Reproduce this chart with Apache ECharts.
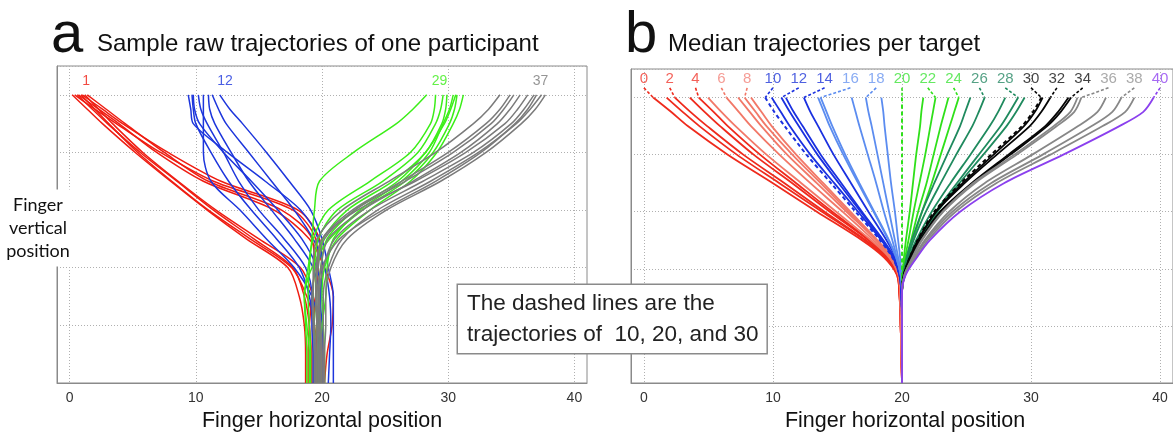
<!DOCTYPE html>
<html><head><meta charset="utf-8">
<script src="https://cdn.jsdelivr.net/npm/echarts@6/dist/echarts.min.js"></script>
<style>html,body{margin:0;padding:0;background:#fff}#c{width:1173px;height:435px}</style>
</head><body><div id="c"></div>
<script>
// ---------- data ----------
const TICKS_X = [0, 10, 20, 30, 40];

// Panel a: raw trajectories (x at each vertical level of Y_A)
const Y_A = [5, 4.75, 4.5, 4, 3.5, 3, 2.5, 2, 1.5, 1, 0.5, 0];
const RAW_TARGETS = [1, 12, 29, 37];
const RAW_1 = [
  [0.4, 2.0, 3.7, 7.2, 11.4, 17.7, 19.5, 19.7, 19.5, 19.3, 19.2, 19.2],
  [1.0, 2.6, 4.2, 7.8, 12.0, 18.1, 19.8, 20.0, 19.8, 19.6, 19.5, 19.4],
  [1.4, 2.9, 4.4, 7.5, 11.0, 16.8, 19.2, 19.4, 19.2, 19.0, 18.9, 18.9],
  [0.7, 2.3, 3.9, 6.9, 10.6, 16.2, 19.0, 20.2, 20.9, 20.8, 20.4, 20.2],
  [0.2, 1.4, 2.6, 5.2, 8.0, 10.9, 14.0, 17.3, 18.2, 18.6, 18.7, 18.7],
  [0.6, 1.8, 3.0, 5.6, 8.5, 11.4, 14.6, 17.7, 18.6, 19.0, 19.1, 19.1],
  [1.2, 2.3, 3.4, 5.8, 8.6, 11.6, 15.0, 18.3, 19.3, 19.8, 20.0, 20.0],
  [0.9, 2.0, 3.1, 5.4, 8.1, 11.0, 14.3, 17.6, 18.8, 19.4, 19.6, 19.6]
];
const RAW_12 = [
  [9.4, 9.6, 9.8, 12.5, 15.5, 18.3, 19.7, 20.0, 19.9, 19.8, 19.8, 19.8],
  [9.7, 9.8, 10.0, 11.2, 12.6, 14.4, 16.4, 18.2, 19.0, 19.3, 19.4, 19.4],
  [10.6, 10.6, 10.6, 10.6, 11.2, 13.5, 15.6, 17.8, 19.2, 19.8, 20.1, 20.1],
  [11.0, 11.1, 11.5, 12.8, 14.2, 16.0, 17.8, 19.3, 19.8, 20.0, 20.1, 20.1],
  [11.3, 11.8, 12.4, 14.2, 16.0, 17.8, 19.3, 20.2, 20.6, 20.7, 20.6, 20.5],
  [11.9, 12.7, 13.7, 15.6, 17.4, 19.1, 20.0, 20.5, 20.9, 20.9, 20.9, 20.9],
  [9.8, 9.9, 10.3, 12.2, 14.4, 16.5, 18.4, 19.6, 19.9, 19.8, 19.7, 19.7],
  [10.2, 10.4, 10.9, 12.2, 13.4, 15.0, 17.0, 18.7, 19.2, 19.2, 19.3, 19.3]
];
const RAW_29 = [
  [28.3, 27.2, 25.9, 22.5, 19.8, 19.4, 19.2, 19.0, 18.9, 19.0, 19.1, 19.1],
  [29.6, 29.4, 29.0, 27.6, 24.8, 21.2, 19.7, 19.4, 19.3, 19.4, 19.5, 19.5],
  [29.9, 29.8, 29.5, 28.2, 25.6, 22.0, 20.1, 19.6, 19.5, 19.6, 19.7, 19.7],
  [30.6, 30.2, 29.7, 28.2, 26.0, 22.6, 20.4, 19.9, 19.7, 19.8, 19.9, 19.9],
  [30.7, 30.5, 30.1, 28.8, 26.6, 23.2, 20.6, 19.2, 18.6, 18.8, 19.0, 19.0],
  [31.2, 30.9, 30.4, 29.1, 27.0, 23.8, 21.2, 20.2, 20.0, 20.1, 20.2, 20.2],
  [29.0, 28.9, 28.6, 27.0, 23.8, 20.5, 19.3, 18.9, 18.6, 18.7, 18.8, 18.8],
  [30.4, 30.1, 29.6, 28.5, 26.3, 23.0, 20.9, 20.4, 20.3, 20.0, 19.8, 19.8]
];
const RAW_37 = [
  [34.1, 33.2, 32.0, 29.0, 25.3, 21.6, 19.6, 19.3, 19.3, 19.4, 19.5, 19.5],
  [34.9, 34.1, 33.0, 30.0, 26.3, 22.4, 20.0, 19.6, 19.5, 19.6, 19.7, 19.7],
  [35.7, 34.9, 33.9, 31.0, 27.2, 23.2, 20.5, 19.9, 19.7, 19.8, 19.9, 19.9],
  [36.3, 35.5, 34.5, 31.4, 27.4, 22.8, 20.0, 19.5, 19.2, 19.3, 19.4, 19.4],
  [36.8, 36.0, 35.0, 32.0, 28.0, 23.8, 21.0, 20.1, 19.8, 19.9, 20.0, 20.0],
  [37.4, 36.5, 35.4, 32.4, 28.6, 24.4, 21.6, 20.5, 20.1, 20.1, 20.1, 20.1],
  [37.7, 36.9, 35.8, 33.0, 29.4, 25.1, 22.0, 20.7, 20.3, 20.3, 20.2, 20.2],
  [35.2, 34.4, 33.4, 30.4, 26.6, 22.6, 20.2, 19.7, 19.5, 19.6, 19.6, 19.6],
  [37.0, 36.3, 35.3, 32.6, 29.0, 24.8, 21.4, 20.0, 19.6, 19.7, 19.8, 19.8]
];
const RAW_LABEL_Y = 5.23;

// Panel b: median trajectories for targets 0..40 (x at each level of Y_B)
const Y_B = [5, 4.75, 4.5, 4, 3.5, 3, 2.5, 2.2, 1.9, 1.6, 1, 0];
const MED_00_04 = [
  [0.72, 2.1, 3.4, 6.5, 10.0, 13.4, 16.9, 18.6, 19.6, 19.8, 19.9, 20],
  [1.76, 3.0, 4.3, 7.2, 10.5, 13.8, 17.1, 18.7, 19.6, 19.8, 19.9, 20],
  [2.4, 3.6, 4.9, 7.7, 10.9, 14.0, 17.2, 18.8, 19.65, 19.8, 19.9, 20],
  [3.56, 4.7, 5.9, 8.5, 11.5, 14.4, 17.4, 18.9, 19.7, 19.8, 19.9, 20],
  [4.25, 5.4, 6.5, 9.0, 11.8, 14.6, 17.5, 18.9, 19.7, 19.8, 19.9, 20]
];
const MED_05_09 = [
  [4.97, 6.0, 7.1, 9.5, 12.2, 14.9, 17.6, 19.0, 19.7, 19.85, 19.9, 20],
  [6.4, 7.35, 8.3, 10.5, 12.9, 15.4, 17.8, 19.05, 19.75, 19.85, 19.95, 20],
  [7.3, 8.2, 9.1, 11.1, 13.4, 15.7, 18.0, 19.1, 19.75, 19.85, 19.95, 20],
  [7.8, 8.65, 9.5, 11.5, 13.7, 15.85, 18.05, 19.15, 19.75, 19.85, 19.95, 20],
  [8.3, 9.1, 9.9, 11.8, 13.9, 16.0, 18.1, 19.2, 19.8, 19.9, 19.95, 20]
];
const MED_10_14 = [
  [9.4, 10.1, 10.9, 12.6, 14.5, 16.4, 18.3, 19.25, 19.8, 19.95, 20, 20],
  [9.9, 10.6, 11.3, 12.9, 14.75, 16.6, 18.4, 19.3, 19.8, 19.95, 20, 20],
  [10.65, 11.3, 12.0, 13.45, 15.1, 16.8, 18.5, 19.35, 19.8, 19.95, 20, 20],
  [11.0, 11.6, 12.3, 13.7, 15.3, 16.9, 18.55, 19.4, 19.8, 19.95, 20, 20],
  [12.4, 12.9, 13.5, 14.7, 16.05, 17.4, 18.8, 19.5, 19.85, 19.95, 20, 20]
];
const MED_15_19 = [
  [13.5, 13.95, 14.4, 15.45, 16.6, 17.8, 18.95, 19.55, 19.9, 20, 20, 20],
  [13.7, 14.15, 14.6, 15.6, 16.7, 17.85, 19.0, 19.55, 19.9, 20, 20, 20],
  [16.1, 16.4, 16.7, 17.35, 18.0, 18.6, 19.25, 19.6, 19.9, 20, 20, 20],
  [17.2, 17.4, 17.65, 18.1, 18.55, 19.0, 19.45, 19.7, 19.95, 20, 20, 20],
  [18.4, 18.55, 18.65, 18.9, 19.15, 19.45, 19.7, 19.85, 19.95, 20, 20, 20]
];
const MED_20_24 = [
  [20, 20, 20, 20, 20, 20, 20, 20, 20, 20, 20, 20],
  [21.65, 21.5, 21.4, 21.1, 20.85, 20.6, 20.3, 20.15, 20.05, 20, 20, 20],
  [22.6, 22.4, 22.2, 21.8, 21.35, 20.9, 20.5, 20.25, 20.05, 20, 20, 20],
  [23.6, 23.3, 23.0, 22.45, 21.9, 21.25, 20.7, 20.35, 20.05, 20, 20, 20],
  [24.4, 24.05, 23.7, 23.0, 22.3, 21.55, 20.85, 20.45, 20.1, 20, 20, 20]
];
const MED_25_29 = [
  [25.3, 24.9, 24.5, 23.5, 22.5, 21.55, 20.75, 20.35, 20.1, 20, 20, 20],
  [26.4, 25.95, 25.45, 24.2, 23.0, 21.85, 20.9, 20.45, 20.15, 20, 20, 20],
  [28.0, 27.45, 26.8, 25.3, 23.75, 22.3, 21.1, 20.55, 20.15, 20, 20, 20],
  [29.0, 28.35, 27.65, 25.95, 24.25, 22.6, 21.25, 20.65, 20.2, 20, 20, 20],
  [29.5, 28.85, 28.1, 26.3, 24.45, 22.75, 21.35, 20.65, 20.2, 20, 20, 20]
];
const MED_30_34 = [
  [30.8, 30.15, 29.3, 26.9, 24.55, 22.5, 21.2, 20.6, 20.15, 20, 20, 20],
  [30.9, 30.3, 29.45, 27.1, 24.7, 22.6, 21.25, 20.6, 20.15, 20, 20, 20],
  [31.5, 30.8, 29.9, 27.35, 24.85, 22.65, 21.25, 20.65, 20.15, 20, 20, 20],
  [32.9, 32.1, 31.1, 28.25, 25.4, 22.95, 21.4, 20.7, 20.2, 20, 20, 20],
  [33.1, 32.3, 31.25, 28.4, 25.5, 23.0, 21.45, 20.7, 20.2, 20, 20, 20]
];
const MED_35_39 = [
  [33.6, 33.05, 31.75, 28.7, 25.5, 23.15, 21.5, 20.8, 20.2, 20, 20, 20],
  [33.9, 33.35, 32.0, 28.9, 25.65, 23.2, 21.55, 20.85, 20.2, 20, 20, 20],
  [35.8, 35.15, 33.65, 30.1, 26.4, 23.65, 21.75, 20.95, 20.25, 20, 20, 20],
  [37.0, 36.3, 34.7, 30.9, 26.9, 23.9, 21.85, 21.0, 20.25, 20, 20, 20],
  [38.0, 37.3, 35.55, 31.5, 27.3, 24.15, 22.0, 21.1, 20.25, 20, 20, 20]
];
const MED_40 = [
  [39.5, 38.7, 36.85, 32.5, 27.9, 24.5, 22.15, 21.15, 20.3, 20, 20, 20]
];
const LABELED_TARGETS = [0, 2, 4, 6, 8, 10, 12, 14, 16, 18, 20, 22, 24, 26, 28, 30, 32, 34, 36, 38, 40];
const DASHED_TARGETS = [10, 20, 30];
const MED_LABEL_Y = 5.32;
const CONNECTOR_TOP_Y = 5.17;

// ---------- styles ----------
const RAW_GROUPS = [RAW_1, RAW_12, RAW_29, RAW_37];
const RAW_COLORS = ['#ef1d12', '#1d36dc', '#3cee19', '#7b7b7b'];
const MED_GROUPS = [MED_00_04, MED_05_09, MED_10_14, MED_15_19, MED_20_24, MED_25_29, MED_30_34, MED_35_39, MED_40];
const MED_COLORS = ['#ef2a1c', '#f27868', '#1a30e0', '#5b8cf0', '#2fe01a', '#1f8a5e', '#050505', '#878787', '#8b40ee'];
const MED_LABEL_COLORS = ['#f03a30', '#f2837a', '#2238d8', '#6a96f0', '#3ee43a', '#2a8a66', '#111111', '#959595', '#9145f0'];
const FONT = 'Liberation Sans, Arial, sans-serif';
const AXIS_COLOR = '#8a8a8a';
const GRID_LINE = { type: [1, 2], color: '#b0b0b0', width: 1 };

const series = [];
// panel a
RAW_GROUPS.forEach((rows, g) => {
  rows.forEach(row => {
    series.push({
      type: 'line', xAxisIndex: 0, yAxisIndex: 0, symbol: 'none', smooth: 0.3,
      data: row.map((x, i) => [x, Y_A[i]]),
      lineStyle: { color: RAW_COLORS[g], width: 1.5 }, silent: true, z: 2
    });
  });
});
series.push({
  type: 'scatter', xAxisIndex: 0, yAxisIndex: 0, symbolSize: 0, silent: true,
  data: RAW_TARGETS.map((t, i) => ({ value: [t, RAW_LABEL_Y], label: { color: RAW_COLORS[i] } })),
  label: { show: true, position: 'inside', offset: [4, 0], fontSize: 14, fontFamily: FONT,
           formatter: p => String(p.value[0]) }
});
// panel b
const MED_ALL = [];
MED_GROUPS.forEach((rows, g) => rows.forEach(row => MED_ALL.push({ row, g })));
MED_ALL.forEach((m, t) => {
  const dashed = DASHED_TARGETS.includes(t);
  series.push({
    type: 'line', xAxisIndex: 1, yAxisIndex: 1, symbol: 'none', smooth: 0.3,
    data: m.row.map((x, i) => [x, Y_B[i]]),
    lineStyle: { color: MED_COLORS[m.g], width: dashed ? 2 : 1.8, type: dashed ? [4, 3] : 'solid' },
    silent: true, z: 2
  });
});
LABELED_TARGETS.forEach(t => {
  const m = MED_ALL[t];
  series.push({
    type: 'line', xAxisIndex: 1, yAxisIndex: 1, symbol: 'none',
    data: [[t, CONNECTOR_TOP_Y], [m.row[0], Y_B[0]]],
    lineStyle: { color: MED_COLORS[m.g], width: 1.6, type: [3, 2] }, silent: true, z: 3
  });
});
series.push({
  type: 'scatter', xAxisIndex: 1, yAxisIndex: 1, symbolSize: 0, silent: true,
  data: LABELED_TARGETS.map(t => ({ value: [t, MED_LABEL_Y], label: { color: MED_LABEL_COLORS[MED_ALL[t].g] } })),
  label: { show: true, position: 'inside', fontSize: 15, fontFamily: FONT,
           formatter: p => String(p.value[0]) }
});

function xAxis(gi) {
  return {
    gridIndex: gi, type: 'value', min: -1, max: 41,
    axisLine: { show: true, onZero: false, lineStyle: { color: AXIS_COLOR, width: 1 } },
    axisTick: { show: false, customValues: TICKS_X },
    axisLabel: { customValues: TICKS_X, color: '#333', fontSize: 14, margin: 8, fontFamily: FONT },
    splitLine: { show: true, lineStyle: GRID_LINE }
  };
}
function yAxis(gi) {
  return {
    gridIndex: gi, type: 'value', min: 0, max: 5.5, interval: 1,
    axisLine: { show: true, onZero: false, lineStyle: { color: AXIS_COLOR, width: 1 } },
    axisTick: { show: false }, axisLabel: { show: false },
    splitLine: { show: true, lineStyle: GRID_LINE }
  };
}

const txt = (text, x, y, size, extra) => ({
  type: 'text', x, y, z: 100,
  style: Object.assign({ text, font: size + 'px ' + FONT, fill: '#111', align: 'left', verticalAlign: 'middle' }, extra || {})
});

const option = {
  animation: false,
  backgroundColor: '#fff',
  grid: [
    { left: 57, top: 66, width: 530, height: 317, show: true, borderColor: AXIS_COLOR, borderWidth: 1 },
    { left: 631, top: 69, width: 543, height: 314, show: true, borderColor: AXIS_COLOR, borderWidth: 1 }
  ],
  xAxis: [xAxis(0), xAxis(1)],
  yAxis: [yAxis(0), yAxis(1)],
  series,
  graphic: [
    txt('a', 51, 36, 58, { font: '58px Liberation Sans Narrow, Liberation Sans, sans-serif' }),
    txt('Sample raw trajectories of one participant', 97, 44, 24),
    txt('b', 625, 36, 58, { font: '58px Liberation Sans Narrow, Liberation Sans, sans-serif' }),
    txt('Median trajectories per target', 668, 44, 24),
    txt('Finger\nvertical\nposition', 38, 228, 18, { align: 'center', lineHeight: 23,
        font: '18px Lato, sans-serif', backgroundColor: '#fff', padding: [4, 2] }),
    txt('Finger horizontal position', 322, 421, 21.5, { align: 'center' }),
    txt('Finger horizontal position', 905, 421, 21.5, { align: 'center' }),
    txt('The dashed lines are the\ntrajectories of  10, 20, and 30', 458, 319, 22.5, {
        lineHeight: 31, backgroundColor: '#fff', borderColor: '#8a8a8a', borderWidth: 1.5,
        padding: [3, 8, 3, 9], fill: '#222' })
  ]
};
echarts.init(document.getElementById('c'), null, { renderer: 'canvas' }).setOption(option);
</script></body></html>
